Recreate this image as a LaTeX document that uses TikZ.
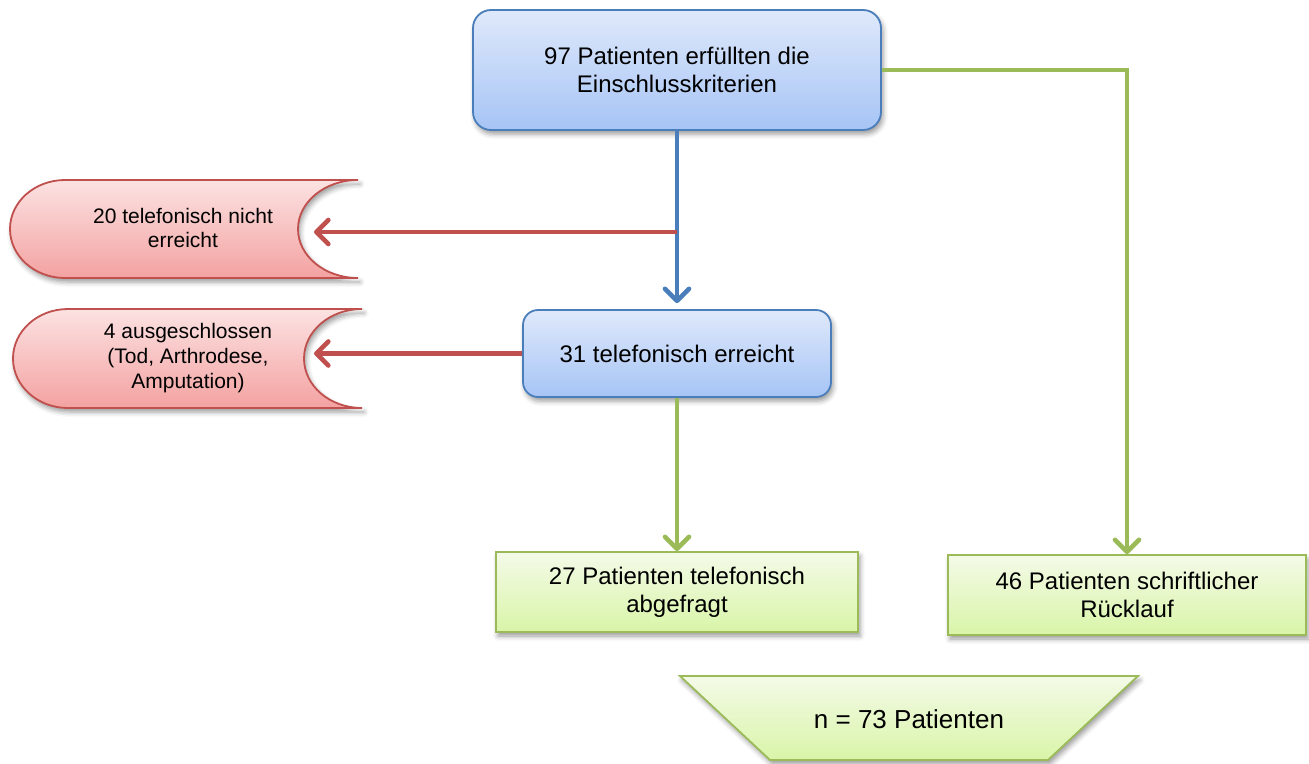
\documentclass[tikz,border=0pt]{standalone}
\usepackage{fontspec}
\setmainfont{Liberation Sans}
\usetikzlibrary{arrows.meta,shadows.blur}
\definecolor{bbord}{HTML}{4A7EBB}
\definecolor{btop}{HTML}{DFE9FB}
\definecolor{bbot}{HTML}{A6C4F5}
\definecolor{rbord}{HTML}{C0504D}
\definecolor{rtop}{HTML}{FCE2E2}
\definecolor{rbot}{HTML}{F3A2A1}
\definecolor{gbord}{HTML}{9BBB59}
\definecolor{gtop}{HTML}{F4FAE8}
\definecolor{gbot}{HTML}{D9F5A8}
\begin{document}
\begin{tikzpicture}[x=1pt,y=1pt,
 shad/.style={blur shadow={shadow xshift=2pt,shadow yshift=-4pt,shadow blur radius=5pt,shadow opacity=40}},
 bigfont/.style={font=\fontsize{24}{27.6}\selectfont},
 bluebox/.style={draw=bbord,line width=1.8pt,rounded corners=18pt,top color=btop,bottom color=bbot,shad,align=center,bigfont},
 greenfill/.style={draw=gbord,line width=1.8pt,top color=gtop,bottom color=gbot,shad},
 greenbox/.style={greenfill,align=center,bigfont},
 redshape/.style={draw=rbord,line width=1.8pt,top color=rtop,bottom color=rbot,shad},
 redtext/.style={align=center,font=\fontsize{21}{24.6}\selectfont},
 tip/.style={-{Straight Barb[length=12pt,width=24pt,round]}},
 barrow/.style={line width=4.6pt,draw=bbord,tip},
 rarrow/.style={line width=4.6pt,draw=rbord,tip},
 garrow/.style={line width=4.6pt,draw=gbord,tip}
]
\useasboundingbox (0,0) rectangle (1309,-763);

% red shapes
\path[redshape] (358,-180) -- (65,-180) arc[start angle=90,end angle=270,x radius=55,y radius=49]
  -- (358,-278) arc[start angle=-90,end angle=-270,x radius=60,y radius=49] -- cycle;
\path[redshape] (362,-309) -- (68,-309) arc[start angle=90,end angle=270,x radius=55,y radius=49.5]
  -- (362,-408) arc[start angle=-90,end angle=-270,x radius=58,y radius=49.5] -- cycle;
\node[redtext] (red1) at (183,-228) {20 telefonisch nicht\\erreicht};
\node[redtext] (red2) at (188,-358) {4 ausgeschlossen\\(Tod, Arthrodese,\\Amputation)};
\coordinate (r1tip) at (314,-232);
\coordinate (r2tip) at (314,-356);

% boxes
\node[bluebox,minimum width=408pt,minimum height=120pt] (top) at (677,-70)
  {97 Patienten erfüllten die\\Einschlusskriterien};
\node[bluebox,rounded corners=15pt,minimum width=308pt,minimum height=87pt] (box2) at (677,-353.5)
  {31 telefonisch erreicht};
\node[greenbox,minimum width=362pt,minimum height=80pt] (box3) at (677,-592)
  {27 Patienten telefonisch\\abgefragt};
\node[greenbox,minimum width=358pt,minimum height=80pt] (box4) at (1127,-595)
  {46 Patienten schriftlicher\\Rücklauf};

% trapezoid
\path[greenfill] (680,-676) -- (1138,-676) -- (1048,-760) -- (770,-760) -- cycle;
\node[font=\fontsize{26}{30}\selectfont] (total) at (909,-719) {n = 73 Patienten};

% connectors
\coordinate (j1) at (top.south |- r1tip);
\draw[barrow,shorten >=6pt] (top.south) -- (box2.north);
\draw[rarrow] (j1) -- (r1tip);
\draw[rarrow] (box2.west) -- (box2.west -| r2tip);
\draw[garrow] (box2.south) -- (box3.north);
\draw[garrow] (top.east) -- (box4.north |- top.east) -- (box4.north);
\end{tikzpicture}
\end{document}
